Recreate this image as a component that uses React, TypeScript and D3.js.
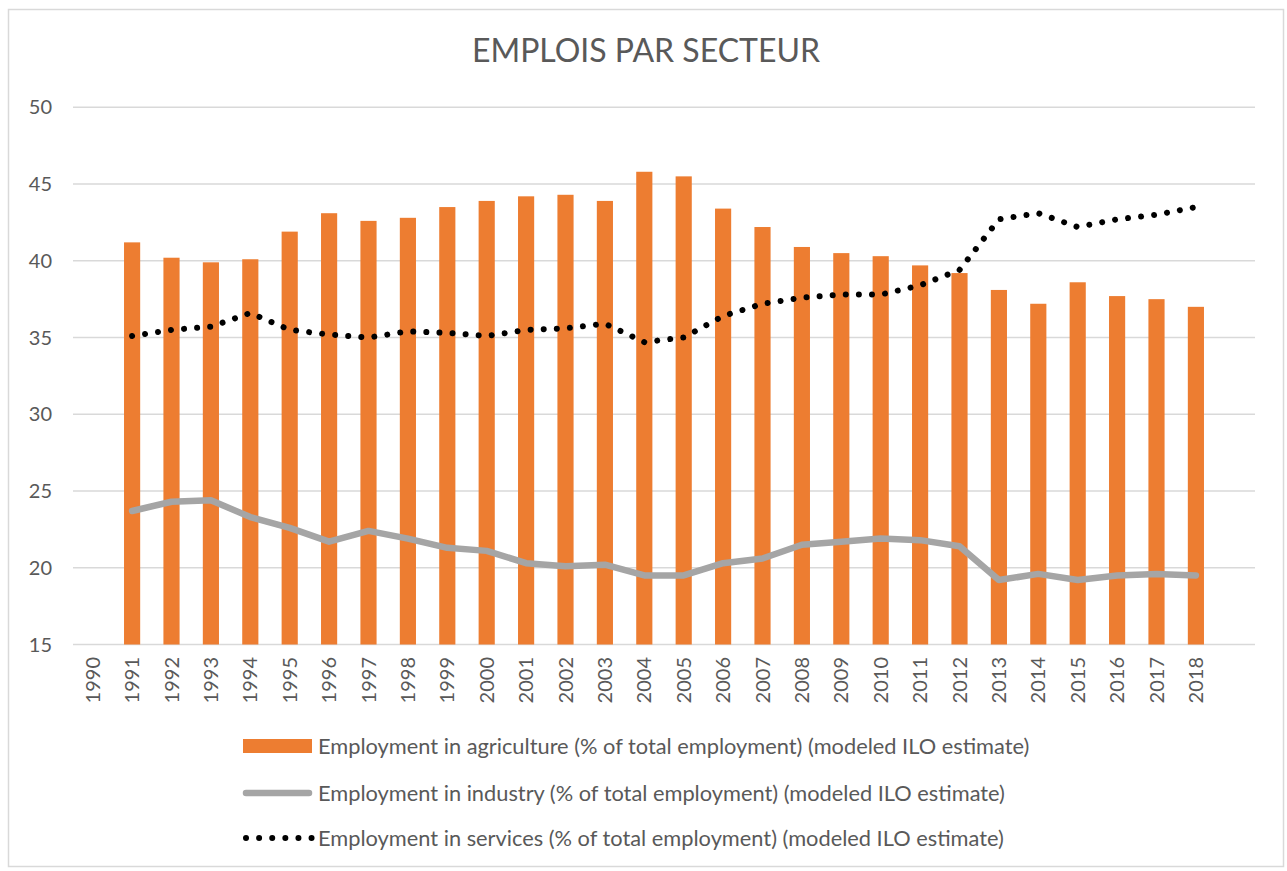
import * as d3 from 'd3';

// categories (last one is the empty slot Excel left after 2018)
const years = [
  '1990', '1991', '1992', '1993', '1994', '1995', '1996', '1997', '1998', '1999',
  '2000', '2001', '2002', '2003', '2004', '2005', '2006', '2007', '2008', '2009',
  '2010', '2011', '2012', '2013', '2014', '2015', '2016', '2017', '2018', ''
];

const agriculture = [
  null, 41.2, 40.2, 39.9, 40.1, 41.9, 43.1, 42.6, 42.8, 43.5,
  43.9, 44.2, 44.3, 43.9, 45.8, 45.5, 43.4, 42.2, 40.9, 40.5,
  40.3, 39.7, 39.2, 38.1, 37.2, 38.6, 37.7, 37.5, 37.0, null
];

const industry = [
  null, 23.7, 24.3, 24.4, 23.3, 22.6, 21.7, 22.4, 21.9, 21.3,
  21.1, 20.3, 20.1, 20.2, 19.5, 19.5, 20.3, 20.6, 21.5, 21.7,
  21.9, 21.8, 21.4, 19.2, 19.6, 19.2, 19.5, 19.6, 19.5, null
];

const services = [
  null, 35.1, 35.5, 35.7, 36.6, 35.5, 35.2, 35.0, 35.4, 35.3,
  35.1, 35.5, 35.6, 35.9, 34.7, 35.0, 36.4, 37.2, 37.6, 37.8,
  37.8, 38.4, 39.4, 42.7, 43.1, 42.2, 42.7, 43.0, 43.5, null
];

const yTicks = [15, 20, 25, 30, 35, 40, 45, 50];

const title = 'EMPLOIS PAR SECTEUR';
const legendLabels = [
  'Employment in agriculture (% of total employment) (modeled ILO estimate)',
  'Employment in industry (% of total employment) (modeled ILO estimate)',
  'Employment in services (% of total employment) (modeled ILO estimate)'
];

const W = 1287;
const H = 871;
const FONT = 'Lato, "Open Sans", sans-serif';
const TEXT = '#595959';
const GRID = '#d9d9d9';
const ORANGE = '#ED7D31';
const GRAY = '#A5A5A5';

type Pt = { i: number; v: number | null };

const App = (): JSX.Element => {
  const marginLeft = 73;
  const marginRight = 32;
  const marginTop = 107.3;
  const plotBottom = 644.5;

  const keys = years.map((d, i) => i + ':' + d);
  const x = d3.scaleBand<string>().domain(keys).range([marginLeft, W - marginRight]).padding(0);
  const step = x.bandwidth();
  const cx = (i: number) => (x(keys[i]) as number) + step / 2;
  const barW = step * 0.41;

  const y = d3.scaleLinear().domain([15, 50]).range([plotBottom, marginTop]);

  const line = d3
    .line<Pt>()
    .defined((d) => d.v !== null)
    .x((d) => cx(d.i))
    .y((d) => y(d.v as number));

  const indPath = line(industry.map((v, i) => ({ i, v }))) || '';
  const srvPath = line(services.map((v, i) => ({ i, v }))) || '';

  const legendX = 243;
  const legendRows = [746, 793, 838];

  return (
    <svg width={W} height={H} style={{ position: 'absolute', left: 0, top: 0, background: '#fff' }}>
      <rect x={8.5} y={9.5} width={1275} height={857} fill="#fff" stroke={GRID} strokeWidth={1.5} />

      <text x={646} y={62} textAnchor="middle" fontFamily={FONT} fontSize={32} fill={TEXT}>
        {title}
      </text>

      {/* gridlines */}
      {yTicks.map((t) => (
        <line key={'g' + t} x1={marginLeft} x2={W - marginRight} y1={y(t)} y2={y(t)} stroke={GRID} strokeWidth={1.5} />
      ))}
      {yTicks.map((t) => (
        <text key={'t' + t} x={52} y={y(t)} dy="0.35em" textAnchor="end" fontFamily={FONT} fontSize={20} fill={TEXT}>
          {t}
        </text>
      ))}

      {/* bars */}
      {agriculture.map((v, i) =>
        v === null ? null : (
          <rect key={'b' + i} x={cx(i) - barW / 2} y={y(v)} width={barW} height={y(15) - y(v)} fill={ORANGE} />
        )
      )}

      <path d={indPath} fill="none" stroke={GRAY} strokeWidth={6.5} strokeLinejoin="round" strokeLinecap="round" />
      <path
        d={srvPath}
        fill="none"
        stroke="#000"
        strokeWidth={6}
        strokeDasharray="0.01 13.1"
        strokeLinecap="round"
      />

      {/* x labels */}
      {years.map((d, i) =>
        d === '' ? null : (
          <text
            key={'x' + i}
            transform={`translate(${cx(i)},${657}) rotate(-90)`}
            textAnchor="end"
            dy="0.35em"
            fontFamily={FONT}
            fontSize={20}
            fill={TEXT}
          >
            {d}
          </text>
        )
      )}

      {/* legend */}
      <rect x={legendX} y={legendRows[0] - 7} width={69} height={14} fill={ORANGE} />
      <line x1={legendX + 3} x2={legendX + 66} y1={legendRows[1]} y2={legendRows[1]} stroke={GRAY} strokeWidth={6.5} strokeLinecap="round" />
      <line
        x1={legendX + 3}
        x2={legendX + 70}
        y1={legendRows[2]}
        y2={legendRows[2]}
        stroke="#000"
        strokeWidth={6}
        strokeDasharray="0.01 13.1"
        strokeLinecap="round"
      />
      {legendLabels.map((l, k) => (
        <text key={'l' + k} x={318} y={legendRows[k]} dy="0.35em" fontFamily={FONT} fontSize={21.8} fill={TEXT}>
          {l}
        </text>
      ))}
    </svg>
  );
};

export default App;
